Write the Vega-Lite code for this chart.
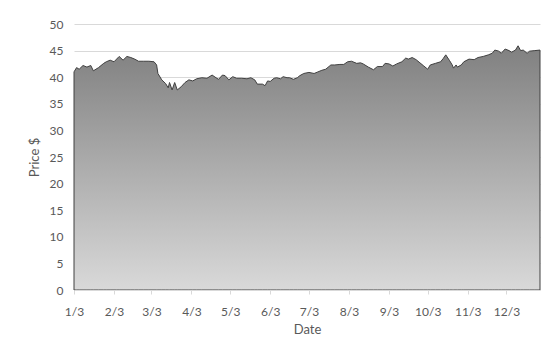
{
  "$schema": "https://vega.github.io/schema/vega-lite/v6.json",
  "width": 466,
  "height": 266,
  "autosize": {"type": "none"},
  "padding": {"left": 74, "top": 24, "right": 18, "bottom": 49},
  "background": "white",
  "config": {
    "view": {"stroke": null},
    "font": "Lato",
    "axis": {"labelFont": "Lato", "titleFont": "Lato", "labelColor": "#595959", "titleColor": "#595959", "titleFontWeight": "normal"}
  },
  "data": {
    "values": [
      {"date": "2012-01-03", "price": 41.0},
      {"date": "2012-01-05", "price": 41.8},
      {"date": "2012-01-07", "price": 41.5},
      {"date": "2012-01-10", "price": 42.2},
      {"date": "2012-01-13", "price": 41.9},
      {"date": "2012-01-16", "price": 42.2},
      {"date": "2012-01-18", "price": 41.2},
      {"date": "2012-01-22", "price": 41.8},
      {"date": "2012-01-26", "price": 42.6},
      {"date": "2012-01-28", "price": 42.9},
      {"date": "2012-01-31", "price": 43.2},
      {"date": "2012-02-03", "price": 42.9},
      {"date": "2012-02-05", "price": 43.4},
      {"date": "2012-02-07", "price": 43.9},
      {"date": "2012-02-10", "price": 43.2},
      {"date": "2012-02-13", "price": 43.9},
      {"date": "2012-02-16", "price": 43.7},
      {"date": "2012-02-19", "price": 43.4},
      {"date": "2012-02-22", "price": 43.0},
      {"date": "2012-02-26", "price": 43.0},
      {"date": "2012-03-01", "price": 43.0},
      {"date": "2012-03-05", "price": 42.9},
      {"date": "2012-03-07", "price": 42.3},
      {"date": "2012-03-08", "price": 40.7},
      {"date": "2012-03-11", "price": 39.5},
      {"date": "2012-03-14", "price": 38.8},
      {"date": "2012-03-16", "price": 38.0},
      {"date": "2012-03-17", "price": 39.0},
      {"date": "2012-03-19", "price": 37.6},
      {"date": "2012-03-21", "price": 39.0},
      {"date": "2012-03-23", "price": 37.6},
      {"date": "2012-03-26", "price": 38.2},
      {"date": "2012-03-29", "price": 39.0},
      {"date": "2012-04-01", "price": 39.5},
      {"date": "2012-04-04", "price": 39.3},
      {"date": "2012-04-07", "price": 39.7},
      {"date": "2012-04-11", "price": 39.9},
      {"date": "2012-04-15", "price": 39.8},
      {"date": "2012-04-19", "price": 40.4},
      {"date": "2012-04-22", "price": 39.9},
      {"date": "2012-04-24", "price": 39.6},
      {"date": "2012-04-27", "price": 40.4},
      {"date": "2012-04-29", "price": 40.3},
      {"date": "2012-05-02", "price": 39.5},
      {"date": "2012-05-05", "price": 40.1},
      {"date": "2012-05-08", "price": 39.8},
      {"date": "2012-05-12", "price": 39.8},
      {"date": "2012-05-16", "price": 39.7},
      {"date": "2012-05-19", "price": 39.9},
      {"date": "2012-05-22", "price": 39.5},
      {"date": "2012-05-24", "price": 38.7},
      {"date": "2012-05-28", "price": 38.7},
      {"date": "2012-05-30", "price": 38.4},
      {"date": "2012-06-01", "price": 39.3},
      {"date": "2012-06-03", "price": 39.2},
      {"date": "2012-06-06", "price": 39.8},
      {"date": "2012-06-08", "price": 39.9},
      {"date": "2012-06-11", "price": 39.7},
      {"date": "2012-06-13", "price": 40.1},
      {"date": "2012-06-16", "price": 39.9},
      {"date": "2012-06-18", "price": 39.9},
      {"date": "2012-06-21", "price": 39.6},
      {"date": "2012-06-24", "price": 39.9},
      {"date": "2012-06-26", "price": 40.3},
      {"date": "2012-06-29", "price": 40.7},
      {"date": "2012-07-03", "price": 40.9},
      {"date": "2012-07-07", "price": 40.7},
      {"date": "2012-07-10", "price": 41.0},
      {"date": "2012-07-13", "price": 41.3},
      {"date": "2012-07-16", "price": 41.5},
      {"date": "2012-07-20", "price": 42.3},
      {"date": "2012-07-23", "price": 42.3},
      {"date": "2012-07-27", "price": 42.4},
      {"date": "2012-07-30", "price": 42.4},
      {"date": "2012-08-02", "price": 42.9},
      {"date": "2012-08-05", "price": 43.0},
      {"date": "2012-08-09", "price": 42.6},
      {"date": "2012-08-12", "price": 42.7},
      {"date": "2012-08-14", "price": 42.5},
      {"date": "2012-08-18", "price": 41.9},
      {"date": "2012-08-22", "price": 41.4},
      {"date": "2012-08-25", "price": 42.0},
      {"date": "2012-08-29", "price": 42.0},
      {"date": "2012-08-31", "price": 42.6},
      {"date": "2012-09-03", "price": 42.5},
      {"date": "2012-09-06", "price": 42.1},
      {"date": "2012-09-09", "price": 42.5},
      {"date": "2012-09-13", "price": 42.9},
      {"date": "2012-09-16", "price": 43.6},
      {"date": "2012-09-18", "price": 43.4},
      {"date": "2012-09-21", "price": 43.7},
      {"date": "2012-09-24", "price": 43.3},
      {"date": "2012-09-27", "price": 42.7},
      {"date": "2012-09-30", "price": 42.1},
      {"date": "2012-10-03", "price": 41.5},
      {"date": "2012-10-05", "price": 42.3},
      {"date": "2012-10-09", "price": 42.6},
      {"date": "2012-10-13", "price": 42.9},
      {"date": "2012-10-15", "price": 43.5},
      {"date": "2012-10-17", "price": 44.2},
      {"date": "2012-10-20", "price": 43.1},
      {"date": "2012-10-22", "price": 42.3},
      {"date": "2012-10-23", "price": 41.7},
      {"date": "2012-10-25", "price": 42.3},
      {"date": "2012-10-26", "price": 41.9},
      {"date": "2012-10-29", "price": 42.3},
      {"date": "2012-10-31", "price": 42.9},
      {"date": "2012-11-04", "price": 43.4},
      {"date": "2012-11-08", "price": 43.3},
      {"date": "2012-11-11", "price": 43.7},
      {"date": "2012-11-15", "price": 43.9},
      {"date": "2012-11-19", "price": 44.2},
      {"date": "2012-11-22", "price": 44.5},
      {"date": "2012-11-24", "price": 45.1},
      {"date": "2012-11-27", "price": 44.9},
      {"date": "2012-11-29", "price": 44.5},
      {"date": "2012-12-02", "price": 45.3},
      {"date": "2012-12-05", "price": 45.0},
      {"date": "2012-12-07", "price": 44.7},
      {"date": "2012-12-10", "price": 45.1},
      {"date": "2012-12-12", "price": 45.9},
      {"date": "2012-12-14", "price": 45.0},
      {"date": "2012-12-16", "price": 45.1},
      {"date": "2012-12-19", "price": 44.5},
      {"date": "2012-12-21", "price": 44.9},
      {"date": "2012-12-25", "price": 45.0},
      {"date": "2012-12-29", "price": 45.1}
    ]
  },
  "mark": {
    "type": "area",
    "stroke": "#404040",
    "strokeWidth": 1,
    "color": {
      "gradient": "linear",
      "x1": 0, "y1": 0, "x2": 0, "y2": 1,
      "stops": [
        {"offset": 0, "color": "#808080"},
        {"offset": 1, "color": "#d9d9d9"}
      ]
    }
  },
  "encoding": {
    "x": {
      "field": "date",
      "type": "temporal",
      "title": "Date",
      "scale": {
        "type": "utc",
        "domain": [
          {"year": 2012, "month": 1, "date": 3, "utc": true},
          {"year": 2012, "month": 12, "date": 29, "utc": true}
        ]
      },
      "axis": {
        "values": [
          {"year": 2012, "month": 1, "date": 3, "utc": true},
          {"year": 2012, "month": 2, "date": 3, "utc": true},
          {"year": 2012, "month": 3, "date": 3, "utc": true},
          {"year": 2012, "month": 4, "date": 3, "utc": true},
          {"year": 2012, "month": 5, "date": 3, "utc": true},
          {"year": 2012, "month": 6, "date": 3, "utc": true},
          {"year": 2012, "month": 7, "date": 3, "utc": true},
          {"year": 2012, "month": 8, "date": 3, "utc": true},
          {"year": 2012, "month": 9, "date": 3, "utc": true},
          {"year": 2012, "month": 10, "date": 3, "utc": true},
          {"year": 2012, "month": 11, "date": 3, "utc": true},
          {"year": 2012, "month": 12, "date": 3, "utc": true}
        ],
        "format": "%-m/%-d",
        "grid": false,
        "domainColor": "#d9d9d9",
        "tickColor": "#d9d9d9",
        "tickSize": 4,
        "labelPadding": 12,
        "labelFontSize": 12,
        "titleFontSize": 13,
        "titlePadding": 6,
        "labelFlush": false,
        "labelOverlap": false,
        "zindex": 1
      }
    },
    "y": {
      "field": "price",
      "type": "quantitative",
      "title": "Price $",
      "scale": {"domain": [0, 50], "nice": false},
      "axis": {
        "values": [0, 5, 10, 15, 20, 25, 30, 35, 40, 45, 50],
        "domain": false,
        "ticks": false,
        "gridColor": "#d9d9d9",
        "gridWidth": 1,
        "labelPadding": 11,
        "labelFontSize": 12,
        "titleFontSize": 13,
        "titlePadding": 8
      }
    }
  }
}
